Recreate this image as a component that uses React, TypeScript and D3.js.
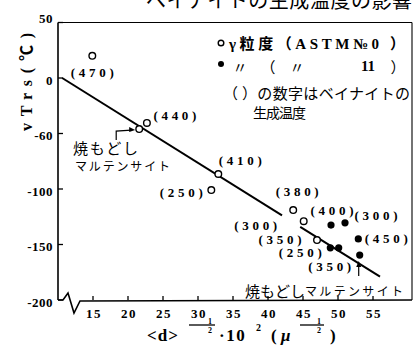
import React from 'react';
import * as d3 from 'd3';

const W = 416;
const H = 349;

const yTickValues = [50, 0, -50, -100, -150, -200];
const yTickLabels = ['50', '0', '-60', '-100', '-150', '-200'];
const xTickValues = [15, 20, 25, 30, 35, 40, 45, 50, 55];
const xTickLabels = ['15', '20', '25', '30', '35', '40', '45', '50', '55'];

// γ粒度 ASTM No.0 (open circles)
const openX = [14.9, 21.6, 22.7, 32.9, 31.9, 43.6, 45.1, 47.0];
const openY = [20, -46, -40.5, -86.5, -101, -119, -129, -146];
const openLabels = ['(470)', '', '(440)', '(410)', '(250)', '(380)', '(300)', '(350)'];

// γ粒度 ASTM No.11 (filled dots)
const filledX = [49.0, 51.0, 52.9, 48.9, 50.1, 53.1];
const filledY = [-132.5, -130.5, -145, -153, -153, -159.5];
const filledLabels = ['(400)', '(300)', '(450)', '(250)', '', '(350)'];

// fitted line, drawn in two pieces
const fitX = [[10.6, 42.0], [44.6, 56.0]];
const fitY = [[0, -123.8], [-134.1, -179]];

// label placement (px, relative to the point)
const openOffsets = [[0, 17], [0, 0], [28, -7], [22, -14], [-30, 2], [4, -19], [-48, 4], [-37, -1]];
const filledOffsets = [[1, -15], [31, -7], [28, 0], [-30, 5], [0, 0], [-30, 11]];

const serif = '"Liberation Serif", "Noto Sans CJK JP", serif';
const cjk = '"Noto Sans CJK JP", sans-serif';

export default function App() {
  const x = d3.scaleLinear().domain([10, 60.57]).range([58, 412]);
  const y = d3.scaleLinear().domain([-200, 50]).range([300, 22.5]);

  const x0 = x(10);
  const y0 = y(-200);
  const yTop = y(50);
  const xRight = x(60.57);

  const line = d3.line<[number, number]>()
    .x(d => x(d[0]))
    .y(d => y(d[1]));

  const bottomPath = `M${x0},${y0} L${x0 + 5},${y0} L${x0 + 10},${y0 - 7} L${x0 + 16},${y0 + 13} L${x0 + 22},${y0 + 1} L${xRight},${y0}`;

  const tp: [number, number] = [x(openX[1]), y(openY[1])];
  const lastF: [number, number] = [x(filledX[5]), y(filledY[5])];

  // "-1/2" superscript: minus sign merged with the fraction bar
  const fracSup = (bx: number, by: number, barStart: number) => (
    <g>
      <line x1={barStart} y1={by} x2={bx + 5} y2={by} stroke="#000" strokeWidth={1.3} />
      <text x={bx} y={by - 1.5} fontSize={8} fontFamily={serif} fontWeight="bold" textAnchor="middle">1</text>
      <text x={bx} y={by + 7.5} fontSize={8} fontFamily={serif} fontWeight="bold" textAnchor="middle">2</text>
    </g>
  );

  return (
    <svg width={W} height={H} style={{ position: 'absolute', left: 0, top: 0, background: '#fff' }}>
      <rect width={W} height={H} fill="#fff" />

      {/* title, cut off at top */}
      <text x={146} y={8} fontSize={20} fontFamily={cjk} textLength={266} lengthAdjust="spacing">ベイナイトの生成温度の影響</text>

      {/* frame */}
      <line x1={x0} y1={yTop} x2={x0} y2={y0} stroke="#000" strokeWidth={1.6} />
      <line x1={x0} y1={yTop} x2={xRight} y2={yTop} stroke="#000" strokeWidth={1.1} />
      <line x1={xRight} y1={yTop} x2={xRight} y2={y0} stroke="#000" strokeWidth={1.1} />
      <path d={bottomPath} fill="none" stroke="#000" strokeWidth={1.6} />

      {/* y ticks */}
      {yTickValues.map((v, i) => (
        <g key={'y' + v}>
          <line x1={x0} y1={y(v)} x2={x0 + 5} y2={y(v)} stroke="#000" strokeWidth={1.3} />
          <text x={53} y={y(v) + (v === 50 ? -4 : 2)} fontSize={13} fontFamily={serif} fontWeight="bold"
            textAnchor="end" dominantBaseline="central" letterSpacing={0.5}>{yTickLabels[i]}</text>
        </g>
      ))}

      {/* x ticks */}
      {xTickValues.map((v, i) => (
        <g key={'x' + v}>
          <line x1={x(v)} y1={y0} x2={x(v)} y2={y0 - 4} stroke="#000" strokeWidth={1.3} />
          <text x={x(v) + 1} y={313} fontSize={13} fontFamily={serif} fontWeight="bold"
            textAnchor="middle" dominantBaseline="central" letterSpacing={1.5}>{xTickLabels[i]}</text>
        </g>
      ))}

      {/* y axis title */}
      <text transform="translate(26,82) rotate(-90)" fontSize={16} fontFamily={serif} fontWeight="bold"
        textAnchor="middle" dominantBaseline="central" textLength={98} lengthAdjust="spacing">vTrs(℃)</text>

      {/* x axis title */}
      <text x={147} y={341} fontSize={17} fontFamily={serif} fontWeight="bold" letterSpacing={1}>&lt;d&gt;</text>
      {fracSup(210, 325, 189)}
      <text x={219} y={341} fontSize={17} fontFamily={serif} fontWeight="bold" letterSpacing={1.5}>·10</text>
      <text x={256} y={331} fontSize={10} fontFamily={serif} fontWeight="bold">2</text>
      <text x={271} y={341} fontSize={17} fontFamily={serif} fontWeight="bold">(</text>
      <text x={281} y={341} fontSize={17} fontFamily={serif} fontWeight="bold" fontStyle="italic">μ</text>
      {fracSup(319, 325, 300)}
      <text x={330} y={341} fontSize={17} fontFamily={serif} fontWeight="bold">)</text>

      {/* fitted line */}
      {fitX.map((xs, i) => (
        <path key={'fit' + i} d={line([[xs[0], fitY[i][0]], [xs[1], fitY[i][1]]]) || ''}
          fill="none" stroke="#000" strokeWidth={2} />
      ))}

      {/* open circles */}
      {openX.map((v, i) => (
        <g key={'o' + i}>
          <circle cx={x(v)} cy={y(openY[i])} r={3.3} fill="#fff" stroke="#000" strokeWidth={1.4} />
          {openLabels[i] && (
            <text x={x(v) + openOffsets[i][0]} y={y(openY[i]) + openOffsets[i][1]} fontSize={13}
              fontFamily={serif} fontWeight="bold" textAnchor="middle" dominantBaseline="central"
              textLength={43} lengthAdjust="spacing">{openLabels[i]}</text>
          )}
        </g>
      ))}

      {/* filled dots */}
      {filledX.map((v, i) => (
        <g key={'f' + i}>
          <circle cx={x(v)} cy={y(filledY[i])} r={3.6} fill="#000" />
          {filledLabels[i] && (
            <text x={x(v) + filledOffsets[i][0]} y={y(filledY[i]) + filledOffsets[i][1]} fontSize={13}
              fontFamily={serif} fontWeight="bold" textAnchor="middle" dominantBaseline="central"
              textLength={43} lengthAdjust="spacing">{filledLabels[i]}</text>
          )}
        </g>
      ))}

      {/* tempered martensite note near 440 */}
      <path d={`M${tp[0] - 23},${tp[1] + 11} L${tp[0] - 23},${tp[1] + 2} L${tp[0] - 8},${tp[1] + 1}`}
        fill="none" stroke="#000" strokeWidth={1.2} />
      <path d={`M${tp[0] - 4},${tp[1] + 1} L${tp[0] - 10},${tp[1] - 2} L${tp[0] - 10},${tp[1] + 3} Z`} fill="#000" />
      <text x={73} y={147} fontSize={15} fontFamily={cjk} dominantBaseline="central" textLength={65}
        lengthAdjust="spacing">焼もどし</text>
      <text x={75} y={165} fontSize={12} fontFamily={cjk} dominantBaseline="central" textLength={95}
        lengthAdjust="spacing">マルテンサイト</text>

      {/* tempered martensite note at bottom */}
      <line x1={lastF[0] - 1} y1={lastF[1] + 21} x2={lastF[0] - 1} y2={lastF[1] + 10} stroke="#000" strokeWidth={1.2} />
      <path d={`M${lastF[0] - 1},${lastF[1] + 6} L${lastF[0] - 3.5},${lastF[1] + 12} L${lastF[0] + 1.5},${lastF[1] + 12} Z`} fill="#000" />
      <text x={245} y={290} fontSize={15} fontFamily={cjk} dominantBaseline="central" textLength={60}
        lengthAdjust="spacing">焼もどし</text>
      <text x={305} y={290} fontSize={12} fontFamily={cjk} dominantBaseline="central" textLength={98}
        lengthAdjust="spacing">マルテンサイト</text>

      {/* legend */}
      <circle cx={221} cy={43} r={2.8} fill="#fff" stroke="#000" strokeWidth={1.4} />
      <text x={229} y={44} fontSize={15} fontFamily={serif} fontWeight="bold" dominantBaseline="central"
        textLength={176} lengthAdjust="spacing">γ粒度（ASTM№0 ）</text>
      <circle cx={221} cy={64} r={3} fill="#000" />
      <text x={240} y={66} fontSize={15} fontFamily={cjk} textAnchor="middle" dominantBaseline="central">〃</text>
      <text x={268} y={66} fontSize={15} fontFamily={cjk} textAnchor="middle" dominantBaseline="central">（</text>
      <text x={297} y={66} fontSize={15} fontFamily={cjk} textAnchor="middle" dominantBaseline="central">〃</text>
      <text x={368} y={66} fontSize={15} fontFamily={serif} fontWeight="bold" textAnchor="middle" dominantBaseline="central">11</text>
      <text x={398} y={66} fontSize={15} fontFamily={cjk} textAnchor="middle" dominantBaseline="central">）</text>
      <text x={223} y={92} fontSize={15} fontFamily={cjk} dominantBaseline="central" textLength={187}
        lengthAdjust="spacing">（ ）の数字はベイナイトの</text>
      <text x={253} y={112} fontSize={14} fontFamily={cjk} dominantBaseline="central" textLength={53}
        lengthAdjust="spacing">生成温度</text>
    </svg>
  );
}
